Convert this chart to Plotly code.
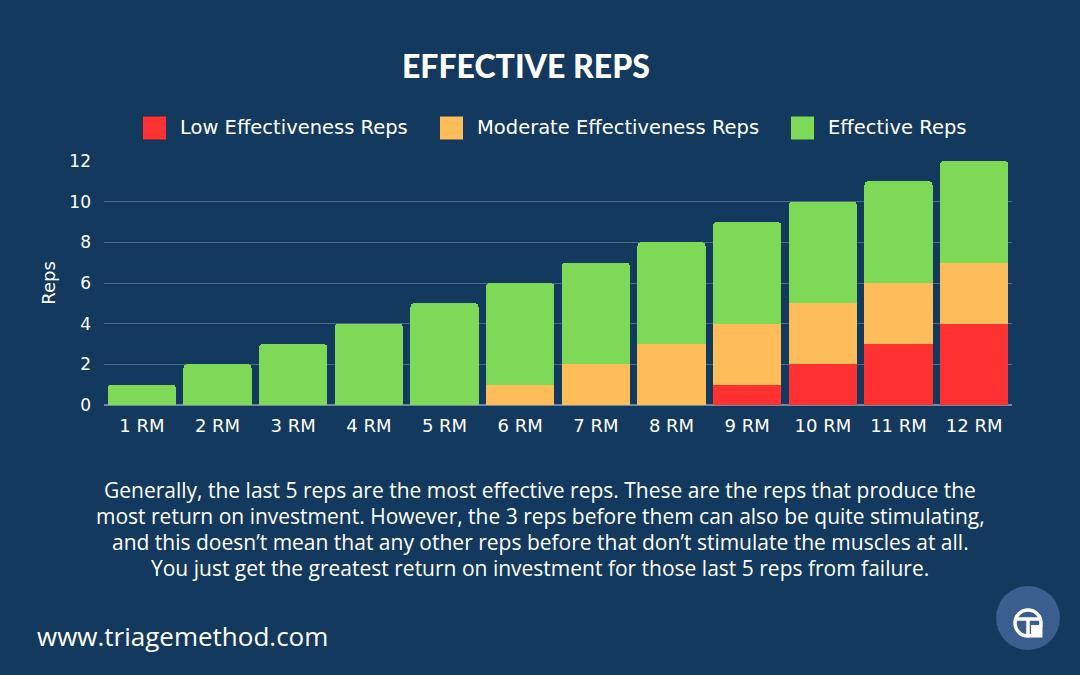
import plotly.graph_objects as go

categories = ["1 RM", "2 RM", "3 RM", "4 RM", "5 RM", "6 RM",
              "7 RM", "8 RM", "9 RM", "10 RM", "11 RM", "12 RM"]
low_reps = [0, 0, 0, 0, 0, 0, 0, 0, 1, 2, 3, 4]
moderate_reps = [0, 0, 0, 0, 0, 1, 2, 3, 3, 3, 3, 3]
effective_reps = [1, 2, 3, 4, 5, 5, 5, 5, 5, 5, 5, 5]
series_names = ["Low Effectiveness Reps", "Moderate Effectiveness Reps", "Effective Reps"]
series_colors = ["#FF3131", "#FFBD59", "#7ED957"]
y_ticks = [0, 2, 4, 6, 8, 10, 12]

title_text = "EFFECTIVE REPS"
body_lines = [
    "Generally, the last 5 reps are the most effective reps. These are the reps that produce the",
    "most return on investment. However, the 3 reps before them can also be quite stimulating,",
    "and this doesn’t mean that any other reps before that don’t stimulate the muscles at all.",
    "You just get the greatest return on investment for those last 5 reps from failure.",
]
footer_text = "www.triagemethod.com"

BG = "#13395f"
FONT = "Open Sans"
FONT2 = "DejaVu Sans"

fig = go.Figure()
for name, vals, col in zip(series_names, [low_reps, moderate_reps, effective_reps], series_colors):
    fig.add_trace(go.Bar(
        x=categories, y=vals, name=name, marker_color=col,
        marker_line_width=0, showlegend=False,
    ))

W, H = 1080, 675
ml, mr, mt, mb = 104, 68, 161, 270
PW = W - ml - mr
PH = H - mt - mb

def px_x(p):
    return (p - ml) / PW

def px_y(p):
    return (H - mb - p) / PH

annotations = []
shapes = []

# Title
annotations.append(dict(
    text=title_text, xref="paper", yref="paper",
    x=px_x(526), y=px_y(65), xanchor="center", yanchor="middle",
    showarrow=False, font=dict(family="Lato", size=32, color="white", weight=900),
))

# Custom legend
legend_sq_x = [143, 440, 791]
legend_y = 128
for sx, name, col in zip(legend_sq_x, series_names, series_colors):
    shapes.append(dict(
        type="rect", xref="paper", yref="paper",
        x0=px_x(sx), x1=px_x(sx + 23), y0=px_y(legend_y + 11.5), y1=px_y(legend_y - 11.5),
        fillcolor=col, line_width=0, layer="above",
    ))
    annotations.append(dict(
        text=name, xref="paper", yref="paper",
        x=px_x(sx + 35), y=px_y(legend_y), xanchor="left", yanchor="middle",
        showarrow=False, font=dict(family=FONT2, size=19.5, color="white"),
    ))

# Body text
for i, line in enumerate(body_lines):
    annotations.append(dict(
        text=line, xref="paper", yref="paper",
        x=px_x(540), y=px_y(490 + 26 * i), xanchor="center", yanchor="middle",
        showarrow=False, font=dict(family=FONT, size=21, color="white"),
    ))

# Footer
annotations.append(dict(
    text=footer_text, xref="paper", yref="paper",
    x=px_x(35), y=px_y(636), xanchor="left", yanchor="middle",
    showarrow=False, font=dict(family=FONT, size=26, color="white"),
))

# Logo
cx, cy, r = 1028, 618, 32
shapes.append(dict(type="circle", xref="paper", yref="paper",
                   x0=px_x(cx - r), x1=px_x(cx + r), y0=px_y(cy + r), y1=px_y(cy - r),
                   fillcolor="#3a5f8e", line_width=0, layer="above"))
ir = 13
icy = cy + 5
shapes.append(dict(type="circle", xref="paper", yref="paper",
                   x0=px_x(cx - ir), x1=px_x(cx + ir), y0=px_y(icy + ir), y1=px_y(icy - ir),
                   fillcolor="rgba(0,0,0,0)", line=dict(color="white", width=3.5), layer="above"))
shapes.append(dict(type="line", xref="paper", yref="paper",
                   x0=px_x(cx - ir), x1=px_x(cx + ir), y0=px_y(icy - 4), y1=px_y(icy - 4),
                   line=dict(color="white", width=3.5), layer="above"))
shapes.append(dict(type="line", xref="paper", yref="paper",
                   x0=px_x(cx), x1=px_x(cx), y0=px_y(icy - 4), y1=px_y(icy + ir),
                   line=dict(color="white", width=3.5), layer="above"))
shapes.append(dict(type="rect", xref="paper", yref="paper",
                   x0=px_x(cx + 3), x1=px_x(cx + ir + 1.5), y0=px_y(icy + ir + 1.5), y1=px_y(icy + 2),
                   fillcolor="white", line_width=0, layer="above"))

fig.update_layout(
    width=W, height=H,
    margin=dict(l=ml, r=mr, t=mt, b=mb, pad=0),
    paper_bgcolor=BG, plot_bgcolor=BG,
    barmode="stack", bargap=0.1, barcornerradius=4,
    font=dict(family=FONT2, color="white", size=17),
    annotations=annotations, shapes=shapes,
    showlegend=False,
)
fig.update_yaxes(
    range=[0, 12], tickvals=y_ticks, showgrid=True,
    gridcolor="rgba(255,255,255,0.25)", gridwidth=1,
    zeroline=True, zerolinecolor="rgba(255,255,255,0.4)", zerolinewidth=1.5,
    showline=False, ticks="", ticklabelstandoff=12,
    tickfont=dict(family=FONT2, size=17, color="white"),
    title=dict(text="Reps", font=dict(family=FONT2, size=18, color="white"), standoff=9),
)
fig.update_xaxes(
    showgrid=False, showline=False, ticks="",
    tickfont=dict(family=FONT2, size=18, color="white"), ticklabelstandoff=8,
)

fig.write_html("out.html", post_script="document.body.style.margin='0';",
               config={"displayModeBar": False})
